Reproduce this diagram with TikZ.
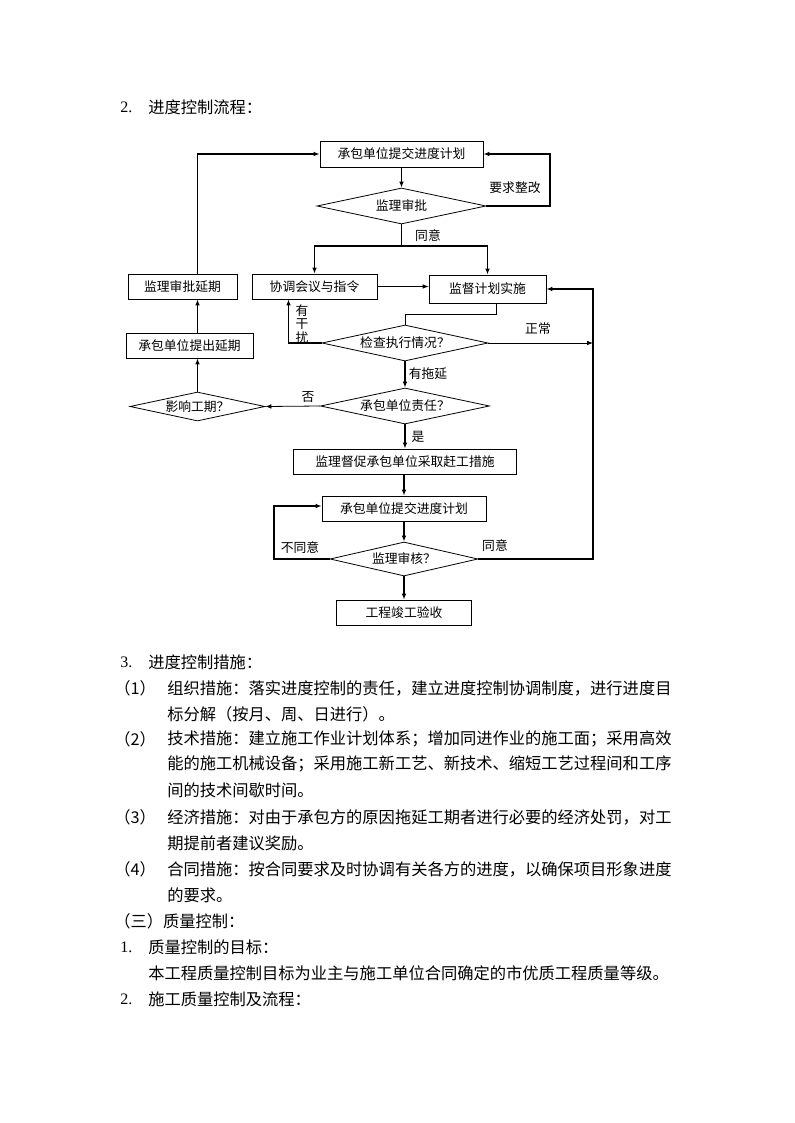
\documentclass[tikz,border=0pt]{standalone}
\usepackage{fontspec}
\setmainfont{Liberation Serif}
\newfontfamily\cjk{Noto Sans CJK SC}
\usetikzlibrary{positioning}
\usetikzlibrary{calc}
\usetikzlibrary{shapes.geometric}
\usetikzlibrary{arrows.meta}

\begin{document}
\begin{tikzpicture}[x=0.75pt, y=-0.75pt,
  box/.style={draw, line width=0.6pt, inner sep=0pt, font=\cjk\fontsize{9.6}{11}\selectfont},
  dia/.style={draw, diamond, line width=0.6pt, inner sep=0pt, font=\cjk\fontsize{9.6}{11}\selectfont},
  heavy/.style={line width=1.4pt, -{Latex[length=4.5pt,width=3.5pt]}},
  light/.style={line width=0.6pt, -{Latex[length=4.5pt,width=3.5pt]}},
  lbl/.style={inner sep=0pt, font=\cjk\fontsize{9.6}{10}\selectfont},
  body/.style={anchor=west, inner sep=0pt, font=\cjk\fontsize{12.2}{14}\selectfont},
  num/.style={anchor=west, inner sep=0pt, font=\fontsize{12}{14}\selectfont}]

\fill[white] (0,0) rectangle (794,1123);
\useasboundingbox (0,0) rectangle (794,1123);

% heading
\node[num] (n2a) at (120,107) {2.};
\node[body] (h2a) at (148,107) {进度控制流程：};

% flow chart
\node[box, minimum width=122.25pt, minimum height=19.5pt] (b1) at (401.5,154) {承包单位提交进度计划};
\node[dia, aspect=4.7, minimum width=126.75pt, minimum height=27pt] (d1) at (401.5,206) {监理审批};
\node[box, minimum width=81.75pt, minimum height=18.75pt] (b2) at (182.5,286.5) {监理审批延期};
\node[box, minimum width=93.75pt, minimum height=18.75pt] (b3) at (314.5,286.5) {协调会议与指令};
\node[box, minimum width=87.75pt, minimum height=21pt] (b4) at (487.5,289) {监督计划实施};
\node[box, minimum width=95.25pt, minimum height=18.75pt] (b5) at (189.5,345.5) {承包单位提出延期};
\node[dia, aspect=4.6, minimum width=124.5pt, minimum height=27pt] (d2) at (405,343) {检查执行情况？};
\node[dia, aspect=4.7, minimum width=126.75pt, minimum height=27pt] (d3) at (405,406) {承包单位责任？};
\node[dia, aspect=4.65, minimum width=101.25pt, minimum height=21.75pt] (d4) at (197.5,406.5) {影响工期？};
\node[box, minimum width=167.25pt, minimum height=18.75pt] (b6) at (405,461.5) {监理督促承包单位采取赶工措施};
\node[box, minimum width=123pt, minimum height=18.75pt] (b7) at (404,508.5) {承包单位提交进度计划};
\node[dia, aspect=4.35, minimum width=111pt, minimum height=25.5pt] (d5) at (404,559) {监理审核？};
\node[box, minimum width=101.25pt, minimum height=18.75pt] (b8) at (404,612.5) {工程竣工验收};

\coordinate (split) at ($(d1.south)+(0,22)$);
\coordinate (trunk) at (593,559);

\draw[heavy] (b1.south) -- (b1.south |- d1.north);
\draw[heavy] (d1.east) -- ++(64,0) |- (b1.east);
\node[lbl] (zhenggai) at (515,188) {要求整改};
\draw[line width=1.4pt] (d1.south) -- (split);
\draw[heavy] (split) -| (b3.north);
\draw[heavy] (split) -| (b4.north);
\node[lbl] (tongyi1) at (428,236) {同意};
\draw[heavy] (d4.north |- b2.north) |- (b1.west);
\draw[light] (b3.east) -- (b3.east -| b4.west);
\draw[line width=0.6pt] ([xshift=7pt]b4.south) -- ++(0,11) -| (d2.north);
\draw[heavy] (d2.west) -| ([xshift=-19.5pt]b3.south);
\node[lbl, align=center] (ganrao) at (302,324) {有\\干\\扰};
\draw[light] (d2.east) -- (d2.east -| trunk);
\node[lbl] (zhengchang) at (538,329) {正常};
\draw[heavy] (d2.south) -- (d3.north);
\node[lbl] (tuoyan) at (428,374) {有拖延};
\draw[light] (d3.west) -- (d4.east);
\node[lbl] (fou) at (308,397) {否};
\draw[heavy] (d4.north) -- (d4.north |- b5.south);
\draw[heavy] (d4.north |- b5.north) -- (d4.north |- b2.south);
\draw[heavy] (d3.south) -- (d3.south |- b6.north);
\node[lbl] (shi) at (418,437) {是};
\draw[heavy] (b6.south -| b7.north) -- (b7.north);
\draw[heavy] (b7.south) -- (d5.north);
\draw[heavy] (d5.west) -- ++(-56,0) |- ($(b7.west)+(0,-2.5)$);
\node[lbl] (butongyi) at (300,548) {不同意};
\draw[heavy] (d5.east) -- (d5.east -| trunk) |- (b4.east);
\node[lbl] (tongyi2) at (495,546) {同意};
\draw[heavy] (d5.south) -- (b8.north);

% text below
\node[num] (n3) at (120,662) {3.};
\node[body] (h3) at (148,662) {进度控制措施：};
\foreach \n/\y/\t in {1/688/{（1）}, 2/739/{（2）}, 3/817/{（3）}, 4/869/{（4）}}
{
\node[body] (p\n) at (114,\y) {\t};
}
\foreach \n/\y/\t in {
  a/688/{组织措施：落实进度控制的责任，建立进度控制协调制度，进行进度目},
  b/714/{标分解（按月、周、日进行）。},
  c/739/{技术措施：建立施工作业计划体系；增加同进作业的施工面；采用高效},
  d/764/{能的施工机械设备；采用施工新工艺、新技术、缩短工艺过程间和工序},
  e/790/{间的技术间歇时间。},
  f/817/{经济措施：对由于承包方的原因拖延工期者进行必要的经济处罚，对工},
  g/843/{期提前者建议奖励。},
  h/869/{合同措施：按合同要求及时协调有关各方的进度，以确保项目形象进度},
  i/895/{的要求。}}
{
\node[body] (l\n) at (167,\y) {\t};
}
\node[body] (s3) at (114,921) {（三）质量控制：};
\node[num] (n1b) at (120,947) {1.};
\node[body] (h1b) at (148,947) {质量控制的目标：};
\node[body] (goal) at (148,973) {本工程质量控制目标为业主与施工单位合同确定的市优质工程质量等级。};
\node[num] (n2b) at (120,999) {2.};
\node[body] (h2b) at (148,999) {施工质量控制及流程：};

\end{tikzpicture}
\end{document}
